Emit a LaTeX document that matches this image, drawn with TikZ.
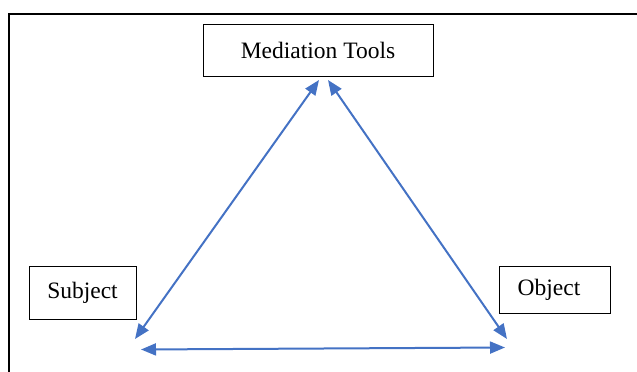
\documentclass[tikz,border=0pt]{standalone}
\usepackage{fontspec}
\setmainfont{Liberation Serif}
\usetikzlibrary{arrows.meta,positioning}

\definecolor{linkblue}{RGB}{68,114,196}

\begin{document}
\begin{tikzpicture}[
    x=1pt, y=-1pt,
    box/.style={rectangle, draw, line width=0.9pt, inner sep=0pt, font=\rmfamily\fontsize{23.5}{28}\selectfont},
    link/.style={{Triangle[length=15pt,width=12pt]}-{Triangle[length=15pt,width=12pt]}, draw=linkblue, fill=linkblue, line width=2pt}
]
    \useasboundingbox (0,0) rectangle (637,372);
    \draw[line width=2pt] (9,372) -- (9,13.7) -- (637,13.7);

    \node[box, minimum width=230pt, minimum height=52pt] (tools) at (318,50) {Mediation Tools};
    \node[box, minimum width=107pt, minimum height=53pt] (subject) at (82.5,292.5) {Subject};
    \node[box, minimum width=111pt, minimum height=47pt] (object) at (554.5,289.5) {Object\kern11pt};

    \coordinate (tools-l) at (319,80);
    \coordinate (tools-r) at (328,80);
    \coordinate (subject-t) at (135,339);
    \coordinate (subject-b) at (141,349.5);
    \coordinate (object-t) at (507,339);
    \coordinate (object-b) at (505,347.5);

    \draw[link] (subject-t) -- (tools-l);
    \draw[link] (tools-r) -- (object-t);
    \draw[link] (subject-b) -- (object-b);
\end{tikzpicture}
\end{document}
